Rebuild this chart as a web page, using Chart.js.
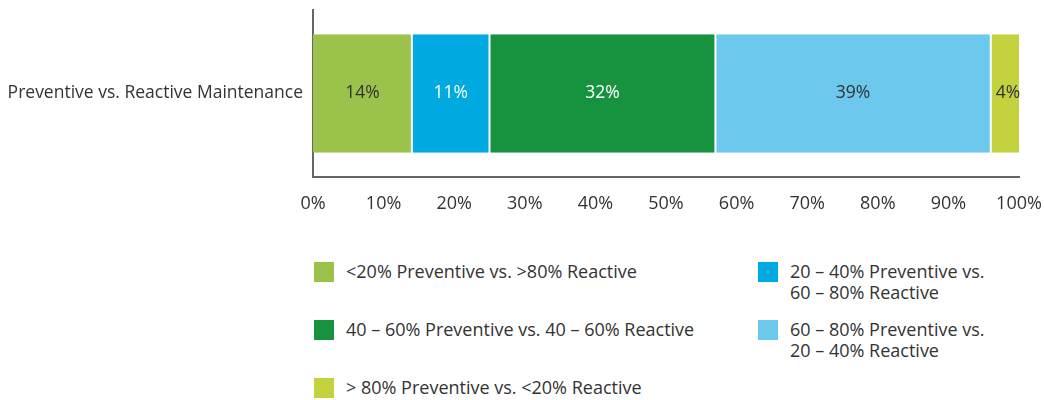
<!DOCTYPE html>
<html>
<head>
<meta charset="utf-8">
<script src="https://cdn.jsdelivr.net/npm/chart.js@4"></script>
<style>
  body { margin: 0; background: #fff; font-family: "Open Sans", sans-serif; color: #333; }
  #wrap { position: relative; width: 1044px; height: 400px; }
  #chartBox { position: absolute; left: 0; top: 0; width: 1044px; height: 230px; }
  .leg { position: absolute; font-size: 18px; line-height: 21px; color: #333; }
  .leg span.sw { position: absolute; left: 0; top: 0; width: 20px; height: 20px; }
  .leg div.tx { position: absolute; left: 32px; top: -1px; white-space: nowrap; }
</style>
</head>
<body>
<div id="wrap">
  <div id="chartBox"><canvas id="chartMant"></canvas></div>
  <div id="legend"></div>
</div>
<script>
const categorias = ['Preventive vs. Reactive Maintenance']
const series = [
  '<20% Preventive vs. >80% Reactive',
  '20 – 40% Preventive vs.\n60 – 80% Reactive',
  '40 – 60% Preventive vs. 40 – 60% Reactive',
  '60 – 80% Preventive vs.\n20 – 40% Reactive',
  '> 80% Preventive vs. <20% Reactive'
]
const valores = [14, 11, 32, 39, 4]
const colores = ['#9bc34b', '#00a9e0', '#179340', '#6dc8ee', '#c3d23d']
const colorTexto = ['#333333', '#ffffff', '#ffffff', '#333333', '#333333']
const ticksX = [0, 10, 20, 30, 40, 50, 60, 70, 80, 90, 100]

// posicion de cada item de la leyenda (columna, fila)
const legendPos = [[314, 262], [758, 262], [314, 320], [758, 320], [314, 378]]

const legend = document.getElementById('legend')
series.forEach((s, i) => {
  const d = document.createElement('div')
  d.className = 'leg'
  d.style.left = legendPos[i][0] + 'px'
  d.style.top = legendPos[i][1] + 'px'
  d.innerHTML = `<span class="sw" style="background:${colores[i]}"></span><div class="tx"></div>`
  d.querySelector('.tx').innerHTML = s.split('\n').map(t => t.replace(/</g, '&lt;').replace(/>/g, '&gt;')).join('<br>')
  legend.appendChild(d)
})

const etiquetas = {
  id: 'etiquetas',
  afterDatasetsDraw(chart) {
    const ctx = chart.ctx
    ctx.save()
    ctx.font = '17.5px "Open Sans"'
    ctx.textAlign = 'center'
    ctx.textBaseline = 'middle'
    chart.data.datasets.forEach((ds, i) => {
      chart.getDatasetMeta(i).data.forEach((bar, j) => {
        const x = (bar.x + bar.base) / 2
        ctx.fillStyle = colorTexto[i]
        ctx.fillText(ds.data[j] + '%', x + (i === 4 ? 3 : 0), bar.y)
      })
    })
    ctx.restore()
  }
}

const context = document.getElementById('chartMant').getContext('2d')

const chartMant = new Chart(context, {
  type: 'bar',
  data: {
    labels: categorias,
    datasets: series.map((s, i) => ({
      label: s,
      data: [valores[i]],
      backgroundColor: colores[i],
      borderColor: '#ffffff',
      borderWidth: { left: i === 0 ? 0 : 1, right: i === 4 ? 0 : 1, top: 0, bottom: 0 },
      borderSkipped: false,
      categoryPercentage: 1,
      barPercentage: 0.71
    }))
  },
  options: {
    indexAxis: 'y',
    responsive: true,
    maintainAspectRatio: false,
    animation: false,
    layout: { padding: { top: 10, right: 25, left: 0, bottom: 0 } },
    plugins: { legend: { display: false }, tooltip: { enabled: false } },
    scales: {
      x: {
        stacked: true,
        min: 0,
        max: 100,
        afterBuildTicks: axis => { axis.ticks = ticksX.map(v => ({ value: v })) },
        grid: { display: false },
        border: { display: true, color: '#666', width: 2 },
        ticks: {
          callback: v => v + '%',
          color: '#333',
          padding: 8,
          font: { family: 'Open Sans', size: 18 },
          maxRotation: 0
        },
        afterFit: axis => { axis.height = 53; axis.paddingLeft = 0; axis.paddingRight = 0 }
      },
      y: {
        stacked: true,
        grid: { display: false },
        border: { display: true, color: '#666', width: 2 },
        ticks: {
          color: '#333',
          padding: 2,
          font: { family: 'Open Sans', size: 17.5 }
        },
        afterFit: axis => { axis.width = 313; axis.paddingTop = 0; axis.paddingBottom = 0 }
      }
    }
  },
  plugins: [etiquetas]
})
</script>
</body>
</html>
